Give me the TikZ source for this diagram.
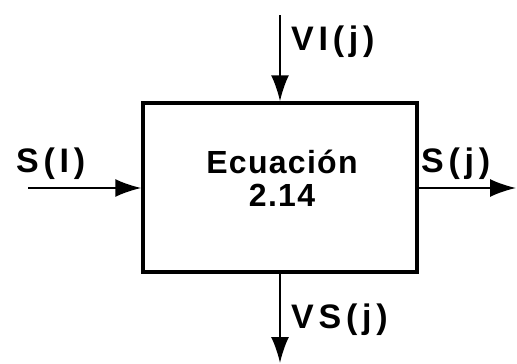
\documentclass[tikz,border=0pt]{standalone}
\usepackage{fontspec}
\setmainfont{Liberation Sans}
\usetikzlibrary{arrows.meta}
\begin{document}
\begin{tikzpicture}[x=1pt,y=-1pt,
  lbl/.style={font=\fontsize{34}{37}\selectfont\bfseries\addfontfeatures{LetterSpace=14}, inner sep=0pt, anchor=west},
  eqst/.style={font=\fontsize{32}{35}\selectfont\bfseries\addfontfeatures{LetterSpace=4}, inner sep=0pt, align=center},
  flow/.style={line width=2pt, -{Latex[length=26pt,width=18pt]}},
  boxst/.style={draw, line width=3.5pt, minimum width=274pt, minimum height=169pt, inner sep=0pt}]
\useasboundingbox (0,0) rectangle (517,364);
\node[boxst] (box) at (280,187.5) {};
\node[eqst] (eq) at (282,178) {Ecuación\\[-2pt]2.14};
\coordinate (top) at (280,15);
\coordinate (bot) at (280,363);
\coordinate (lin) at (28,188);
\coordinate (rout) at (516,188);
\draw[flow] (top) -- (box.north -| top);
\draw[flow] (box.south -| bot) -- (bot);
\draw[flow] (lin) -- (lin -| box.west);
\draw[flow] (rout -| box.east) -- (rout);
\node[lbl] (si) at (16,164) {S(I)};
\node[lbl] (sj) at (421,164) {S(j)};
\node[lbl] (vi) at (291,42) {VI(j)};
\node[lbl] (vs) at (291,320) {VS(j)};
\end{tikzpicture}
\end{document}
